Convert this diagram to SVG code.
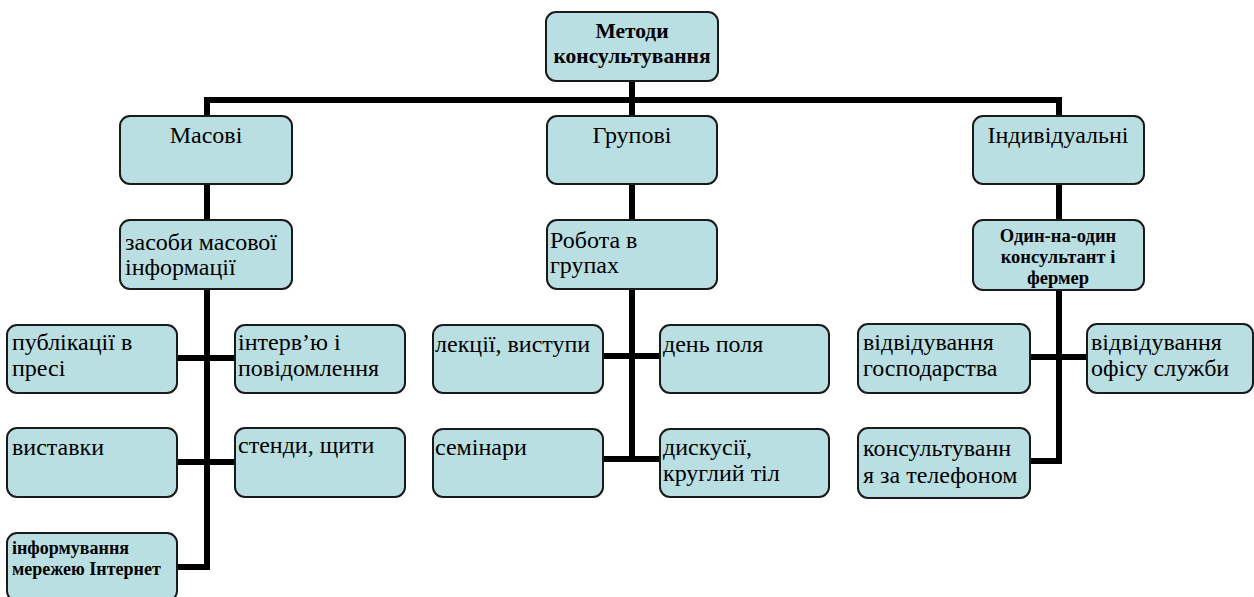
<svg xmlns="http://www.w3.org/2000/svg" width="1254" height="597" viewBox="0 0 1254 597">
<style>
.box{fill:#BADFE2;stroke:#1a1a1a;stroke-width:2}
.ln{stroke:#000;stroke-width:6;fill:none;stroke-linecap:butt}
.t{font-family:"Liberation Serif","Times New Roman",serif;font-size:24px;fill:#000}
.b{font-family:"Liberation Serif","Times New Roman",serif;font-weight:bold;fill:#000}
.c{text-anchor:middle}
</style>
<rect width="1254" height="597" fill="#fff"/>
<g id="connectors">
<path class="ln" d="M632 80V100M204 100H1062M207 100V570M632 100V462M1059 100V464"/>
<path class="ln" d="M177 358H235M177 462H235M177 567H210"/>
<path class="ln" d="M603 356H660M603 459H660"/>
<path class="ln" d="M1030 357H1087M1030 461H1062"/>
</g>
<g id="n-root"><rect class="box" x="546" y="12" width="172" height="69" rx="10"/><text class="b c" font-size="21.5" x="632" y="38">Методи</text><text class="b c" font-size="21.5" x="632" y="63">консультування</text></g>
<g id="n-masovi"><rect class="box" x="120" y="116" width="172" height="68" rx="10"/><text class="t c" x="206" y="143">Масові</text></g>
<g id="n-hrupovi"><rect class="box" x="547" y="116" width="170" height="68" rx="10"/><text class="t c" x="632" y="143">Групові</text></g>
<g id="n-indyv"><rect class="box" x="973" y="116" width="171" height="68" rx="10"/><text class="t c" x="1058" y="143">Індивідуальні</text></g>
<g id="n-zmi"><rect class="box" x="120" y="220" width="172" height="69" rx="10"/><text class="t" x="125" y="250">засоби масової</text><text class="t" x="125" y="275">інформації</text></g>
<g id="n-robota"><rect class="box" x="547" y="220" width="170" height="69" rx="10"/><text class="t" x="550" y="248">Робота в</text><text class="t" x="550" y="273">групах</text></g>
<g id="n-odyn"><rect class="box" x="973" y="220" width="171" height="70" rx="10"/><text class="b c" font-size="18.5" x="1058" y="242">Один-на-один</text><text class="b c" font-size="18.5" x="1058" y="263">консультант і</text><text class="b c" font-size="18.5" x="1058" y="284">фермер</text></g>
<g id="n-publ"><rect class="box" x="7" y="325" width="170" height="68" rx="10"/><text class="t" x="12" y="350">публікації в</text><text class="t" x="12" y="376">пресі</text></g>
<g id="n-interv"><rect class="box" x="235" y="325" width="170" height="68" rx="10"/><text class="t" x="238" y="350">інтерв’ю і</text><text class="t" x="238" y="376">повідомлення</text></g>
<g id="n-vyst"><rect class="box" x="7" y="428" width="170" height="69" rx="10"/><text class="t" x="12" y="455">виставки</text></g>
<g id="n-stendy"><rect class="box" x="235" y="428" width="170" height="69" rx="10"/><text class="t" x="238" y="453">стенди, щити</text></g>
<g id="n-internet"><rect class="box" x="7" y="533" width="170" height="68" rx="10"/><text class="b" font-size="18" x="12" y="554">інформування</text><text class="b" font-size="18" x="12" y="575">мережею Інтернет</text></g>
<g id="n-lektsii"><rect class="box" x="433" y="325" width="170" height="68" rx="10"/><text class="t" x="435" y="352">лекції, виступи</text></g>
<g id="n-den"><rect class="box" x="660" y="325" width="169" height="68" rx="10"/><text class="t" x="663" y="352">день поля</text></g>
<g id="n-semin"><rect class="box" x="433" y="429" width="170" height="68" rx="10"/><text class="t" x="435" y="455">семінари</text></g>
<g id="n-dysk"><rect class="box" x="660" y="429" width="169" height="68" rx="10"/><text class="t" x="663" y="455">дискусії,</text><text class="t" x="663" y="481">круглий тіл</text></g>
<g id="n-gosp"><rect class="box" x="858" y="324" width="172" height="69" rx="10"/><text class="t" x="863" y="350">відвідування</text><text class="t" x="863" y="376">господарства</text></g>
<g id="n-ofis"><rect class="box" x="1087" y="324" width="166" height="69" rx="10"/><text class="t" x="1091" y="350">відвідування</text><text class="t" x="1091" y="376">офісу служби</text></g>
<g id="n-tel"><rect class="box" x="858" y="428" width="172" height="70" rx="10"/><text class="t" x="863" y="456">консультуванн</text><text class="t" x="863" y="483">я за телефоном</text></g>
</svg>
